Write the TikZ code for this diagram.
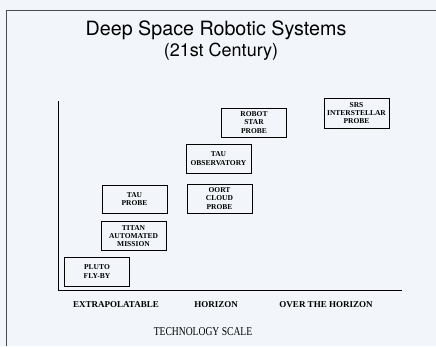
\documentclass[tikz,border=0pt]{standalone}
\usepackage{fontspec}
\setmainfont{Liberation Serif}
\newfontfamily\titlefont{TeX Gyre Heros}
\definecolor{paper}{RGB}{242,245,249}
\begin{document}
\begin{tikzpicture}[x=1pt, y=-1pt,
    probe/.style={draw, line width=0.8pt, align=center, font=\bfseries\fontsize{7.5}{8.4}\selectfont,
      minimum width=65pt, minimum height=29pt, inner sep=1pt},
    level/.style={font=\bfseries\fontsize{9}{10}\selectfont}]

    % Fondo y marco
    \fill[paper] (0,0) rectangle (436,346);
    \useasboundingbox (0,0) rectangle (436,346);
    \draw[line width=0.7pt, black!70] (6,346) -- (6,10) -- (436,10);

    % Titulo
    \node[font=\titlefont\fontsize{19.7}{22}\selectfont] (title) at (216,30) {Deep Space Robotic Systems};
    \node[font=\titlefont\fontsize{18}{20}\selectfont] (subtitle) at (221,52) {(21st Century)};

    % Ejes
    \coordinate (origin) at (58,290);
    \coordinate (ytop) at (58,101);
    \coordinate (xend) at (402,290);
    \draw[line width=1pt] (ytop) -- (origin) -- (xend);

    % Misiones
    \node[probe] (pluto) at (97,271.5) {PLUTO\\FLY-BY};
    \node[probe] (titan) at (133.5,236) {TITAN\\AUTOMATED\\MISSION};
    \node[probe, minimum height=28pt] (tauprobe) at (134.5,199) {TAU\\PROBE};
    \node[probe] (oort) at (219.5,198.5) {OORT\\CLOUD\\PROBE};
    \node[probe] (tauobs) at (218.5,158.5) {TAU\\OBSERVATORY};
    \node[probe] (robot) at (254,122.5) {ROBOT\\STAR\\PROBE};
    \node[probe, minimum height=30pt] (srs) at (356.5,113) {SRS\\INTERSTELLAR\\PROBE};

    % Escala
    \node[level] (extrap) at (116,305) {EXTRAPOLATABLE};
    \node[level] (horizon) at (216,305) {HORIZON};
    \node[level] (over) at (326,305) {OVER THE HORIZON};
    \node (scale) at (203,332) {\scalebox{0.8}[1]{\fontsize{12}{14}\selectfont TECHNOLOGY SCALE}};
\end{tikzpicture}
\end{document}
